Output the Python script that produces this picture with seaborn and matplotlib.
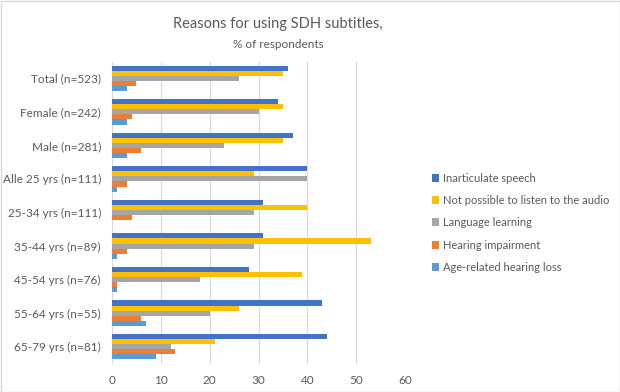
import matplotlib
matplotlib.use("Agg")
import matplotlib.pyplot as plt
import seaborn as sns
import pandas as pd

categories = ["Total (n=523)", "Female (n=242)", "Male (n=281)", "Alle 25 yrs (n=111)",
              "25-34 yrs (n=111)", "35-44 yrs (n=89)", "45-54 yrs (n=76)",
              "55-64 yrs (n=55)", "65-79 yrs (n=81)"]
series = ["Inarticulate speech", "Not possible to listen to the audio",
          "Language learning", "Hearing impairment", "Age-related hearing loss"]
inarticulate = [36, 34, 37, 40, 31, 31, 28, 43, 44]
not_possible = [35, 35, 35, 29, 40, 53, 39, 26, 21]
language = [26, 30, 23, 40, 29, 29, 18, 20, 12]
hearing = [5, 4, 6, 3, 4, 3, 1, 6, 13]
age_related = [3, 3, 3, 1, 0, 1, 1, 7, 9]
xticks = [0, 10, 20, 30, 40, 50, 60]

colors = ["#4472C4", "#FFC000", "#A5A5A5", "#ED7D31", "#5B9BD5"]

rows = []
for s, vals in zip(series, [inarticulate, not_possible, language, hearing, age_related]):
    for c, v in zip(categories, vals):
        rows.append({"category": c, "reason": s, "value": v})
df = pd.DataFrame(rows)

sns.set_theme(style="white")
plt.rcParams["font.family"] = ["Lato", "DejaVu Sans"]
txt = "#595959"

fig = plt.figure(figsize=(6.2, 3.92), dpi=100)
ax = fig.add_axes([112/620, 1-363.5/392, (405-112)/620, 302/392])
sns.barplot(data=df, x="value", y="category", hue="reason", order=categories,
            hue_order=series, palette=colors, orient="h", width=0.76,
            saturation=1, ax=ax, legend=True)
ax.set_xlim(0, 60)
ax.set_ylim(8.5, -0.5)
ax.set_xticks(xticks)
ax.set_xticklabels([str(t) for t in xticks], color=txt, fontsize=8.5)
ax.tick_params(axis="y", labelsize=8.5, labelcolor=txt, length=0, pad=8)
ax.tick_params(axis="x", length=0, pad=8)
ax.set_xlabel("")
ax.set_ylabel("")
for sp in ax.spines.values():
    sp.set_visible(False)
ax.xaxis.grid(True, color="#D9D9D9", linewidth=0.8)
ax.set_axisbelow(True)
for p in ax.patches:
    p.set_edgecolor("none")

handles, labels = ax.get_legend_handles_labels()
ax.legend_.remove()
fig.legend(handles, labels, loc="upper left", bbox_to_anchor=(426/620, 1-167/392),
           frameon=False, fontsize=8, labelcolor=txt, handlelength=0.7,
           handleheight=0.7, handletextpad=0.3, labelspacing=1.02, borderpad=0)

fig.text(278/620, 1-24/392, "Reasons for using SDH subtitles,", ha="center", va="center",
         fontsize=10.5, color=txt)
fig.text(278/620, 1-44/392, "% of respondents", ha="center", va="center",
         fontsize=8.5, color=txt)

border = plt.Rectangle((0.5/620, 0.5/392), 1-1/620, 1-1/392, transform=fig.transFigure,
                       fill=False, edgecolor="#D9D9D9", linewidth=1)
fig.patches.append(border)

fig.savefig("out.png", dpi=100)
